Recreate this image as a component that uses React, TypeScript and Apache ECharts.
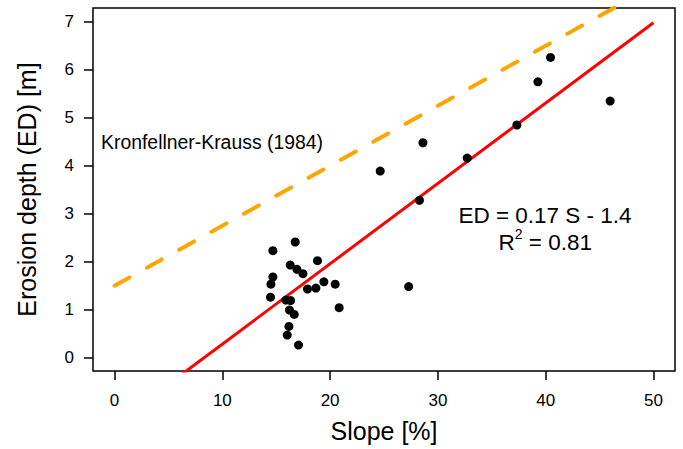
import React, { useEffect, useRef } from "react";
import * as echarts from "echarts";

// Slope [%] and erosion depth [m] of each observation
const slope = [14.69, 16.76, 16.3, 16.92, 17.48, 18.83, 14.69, 14.51, 14.47, 15.9, 16.33, 16.23, 16.67, 16.18, 16.02, 17.07, 17.9, 18.68, 19.42, 20.47, 20.84, 27.29, 24.65, 28.61, 28.29, 32.72, 37.33, 39.28, 40.45, 45.98];
const depth = [2.23, 2.41, 1.93, 1.84, 1.75, 2.02, 1.68, 1.53, 1.26, 1.2, 1.19, 0.99, 0.9, 0.65, 0.47, 0.26, 1.43, 1.45, 1.58, 1.53, 1.04, 1.48, 3.89, 4.48, 3.28, 4.16, 4.85, 5.75, 6.26, 5.35];

// Fitted regression line (ED = a S + b) drawn over this slope range
const fitCoef = [0.1675, -1.394];
const fitRange = [0, 50];
// Kronfellner-Krauss (1984) line
const kkCoef = [0.125, 1.5];
const kkRange = [0, 50];

const xTicks = [0, 10, 20, 30, 40, 50];
const yTicks = [0, 1, 2, 3, 4, 5, 6, 7];

const FONT = "'Liberation Sans', Arial, sans-serif";

export default function App() {
  const ref = useRef<HTMLDivElement>(null);
  useEffect(() => {
    if (!ref.current) return;
    const chart = echarts.init(ref.current, null, { renderer: "svg" });
    const pts = slope.map((s, i) => [s, depth[i]]);
    const fit = fitRange.map((s) => [s, fitCoef[0] * s + fitCoef[1]]);
    const kk = kkRange.map((s) => [s, kkCoef[0] * s + kkCoef[1]]);
    const axisCommon = {
      type: "value" as const,
      splitLine: { show: false },
      axisLine: { show: false, onZero: false },
      axisTick: {
        show: true,
        inside: false,
        length: 9,
        lineStyle: { color: "#000", width: 1.5 },
      },
    };
    chart.setOption({
      animation: false,
      backgroundColor: "#fff",
      grid: {
        left: 93,
        right: 8,
        top: 8,
        bottom: 78,
        show: true,
        borderColor: "#000",
        borderWidth: 1.5,
        backgroundColor: "transparent",
        containLabel: false,
        outerBoundsMode: "none",
      },
      xAxis: {
        ...axisCommon,
        min: -2,
        max: 52,
        axisTick: { ...axisCommon.axisTick, customValues: xTicks },
        axisLabel: {
          customValues: xTicks,
          margin: 21,
          color: "#000",
          fontSize: 17,
          fontFamily: FONT,
        },
        name: "Slope [%]",
        nameLocation: "middle",
        nameGap: 47,
        nameTextStyle: { color: "#000", fontSize: 25, fontFamily: FONT },
      },
      yAxis: {
        ...axisCommon,
        min: -0.28,
        max: 7.29,
        axisTick: { ...axisCommon.axisTick, customValues: yTicks },
        axisLabel: {
          customValues: yTicks,
          margin: 19,
          color: "#000",
          fontSize: 17,
          fontFamily: FONT,
        },
        name: "Erosion depth (ED) [m]",
        nameLocation: "middle",
        nameGap: 54,
        nameRotate: 90,
        nameTextStyle: { color: "#000", fontSize: 25, fontFamily: FONT },
      },
      series: [
        {
          type: "line",
          data: kk,
          clip: true,
          symbol: "none",
          lineStyle: { color: "#FFA500", width: 4, type: [17, 20], cap: "round" },
          z: 2,
        },
        {
          type: "line",
          data: fit,
          clip: true,
          symbol: "none",
          lineStyle: { color: "#FF0000", width: 3 },
          z: 3,
        },
        {
          type: "scatter",
          data: pts,
          symbol: "circle",
          symbolSize: 9,
          itemStyle: { color: "#000", opacity: 1 },
          z: 5,
        },
      ],
      graphic: [
        {
          type: "text",
          left: 101,
          top: 132,
          style: { text: "Kronfellner-Krauss (1984)", fontSize: 19.4, fontFamily: FONT, fill: "#000" },
        },
        {
          type: "text",
          x: 545,
          y: 215,
          style: {
            text: "ED = 0.17 S - 1.4",
            fontSize: 22.5,
            fontFamily: FONT,
            fill: "#000",
            align: "center",
            verticalAlign: "middle",
          },
        },
        {
          type: "text",
          x: 498.5,
          y: 242,
          style: {
            text: "{r|R}{s|2}{r| = 0.81}",
            fontFamily: FONT,
            fill: "#000",
            align: "left",
            verticalAlign: "middle",
            rich: {
              r: { fontSize: 22.5, lineHeight: 30, fontFamily: FONT, fill: "#000" },
              s: { fontSize: 14, lineHeight: 12, verticalAlign: "top", fontFamily: FONT, fill: "#000" },
            },
          },
        },
      ],
    });
    return () => chart.dispose();
  }, []);
  return (
    <div
      ref={ref}
      style={{ position: "fixed", left: 0, top: 0, width: 683, height: 449 }}
    />
  );
}
